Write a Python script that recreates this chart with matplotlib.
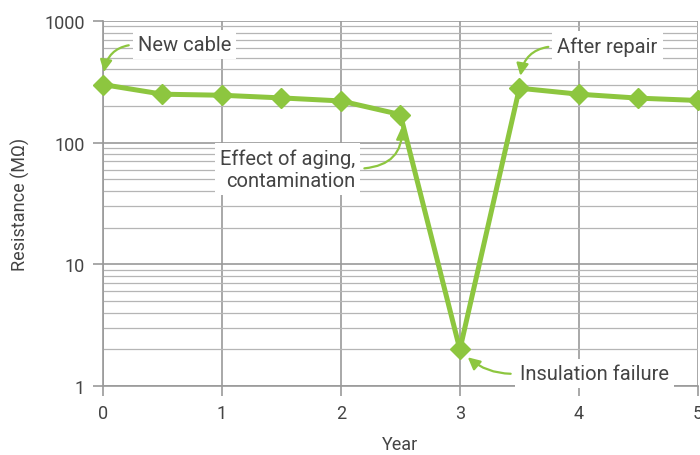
import matplotlib
matplotlib.use("Agg")
from matplotlib import pyplot as plt
from matplotlib.ticker import FixedLocator, LogLocator, NullFormatter

years = [0, 0.5, 1, 1.5, 2, 2.5, 3, 3.5, 4, 4.5, 5]
resistance = [300, 250, 245, 233, 220, 170, 2, 280, 250, 232, 222]
year_ticks = [0, 1, 2, 3, 4, 5]
res_ticks = [1, 10, 100, 1000]
res_labels = ["1", "10", "100", "1000"]

green = "#8dc63f"
grid_col = "#9a9a9a"
text_col = "#444444"

plt.rcParams['font.family'] = ['Roboto', 'DejaVu Sans']

fig = plt.figure(figsize=(7, 4.56), dpi=100)
ax = fig.add_axes([0.147, 0.151, 0.85, 0.801])

ax.set_yscale("log")
ax.set_xlim(0, 5)
ax.set_ylim(1, 1000)

ax.xaxis.set_major_locator(FixedLocator(year_ticks))
ax.yaxis.set_major_locator(FixedLocator(res_ticks))
ax.set_yticklabels(res_labels)
ax.yaxis.set_minor_locator(LogLocator(base=10, subs=range(2, 10)))
ax.yaxis.set_minor_formatter(NullFormatter())

ax.grid(True, which="major", color=grid_col, lw=1.2)
ax.grid(True, which="minor", axis="y", color="#b5b5b5", lw=0.9)
ax.tick_params(which="major", length=7, width=1.2, color=grid_col,
               labelsize=13, labelcolor=text_col, pad=6)
ax.tick_params(which="minor", length=0)
for s in ax.spines.values():
    s.set_visible(False)
for side in ["left", "bottom"]:
    ax.spines[side].set_visible(True)
    ax.spines[side].set_color(grid_col)
    ax.spines[side].set_linewidth(1.2)
ax.set_axisbelow(True)

ax.plot(years, resistance, color=green, lw=3.6, marker="D", ms=10.5,
        clip_on=False, zorder=3)

ax.set_xlabel("Year", fontsize=13, color=text_col, labelpad=9)
ax.set_ylabel("Resistance (M\u03a9)", fontsize=13, color=text_col, labelpad=10)

box = dict(boxstyle="square,pad=0.25", fc="white", ec="none")
arr = dict(arrowstyle="-|>,head_length=0.5,head_width=0.25", color=green, lw=1.6,
           shrinkA=3, shrinkB=9)
fs = 14.5

ax.annotate("New cable", xy=(years[0], resistance[0]), xytext=(0.294, 640),
            fontsize=fs, color=text_col, va="center", ha="left", bbox=box,
            arrowprops=dict(arr, connectionstyle="angle3,angleA=180,angleB=90",
                            relpos=(0, 0.5)), zorder=4)
ax.annotate("Effect of aging,\ncontamination", xy=(years[5], resistance[5]),
            xytext=(2.12, 61), fontsize=fs, color=text_col, va="center",
            ha="right", linespacing=1.2, bbox=box,
            arrowprops=dict(arr, connectionstyle="angle3,angleA=0,angleB=100",
                            relpos=(1, 0.5)), zorder=4)
ax.annotate("After repair", xy=(years[7], resistance[7]), xytext=(3.82, 620),
            fontsize=fs, color=text_col, va="center", ha="left", bbox=box,
            arrowprops=dict(arr, connectionstyle="angle3,angleA=180,angleB=90",
                            relpos=(0, 0.5)), zorder=4)
ax.annotate("Insulation failure", xy=(years[6], resistance[6]), xytext=(3.504, 1.27),
            fontsize=fs, color=text_col, va="center", ha="left", bbox=box,
            arrowprops=dict(arr, connectionstyle="arc3,rad=-0.25",
                            relpos=(0, 0.5), shrinkB=8), zorder=4)

fig.savefig("out.png", dpi=100)
